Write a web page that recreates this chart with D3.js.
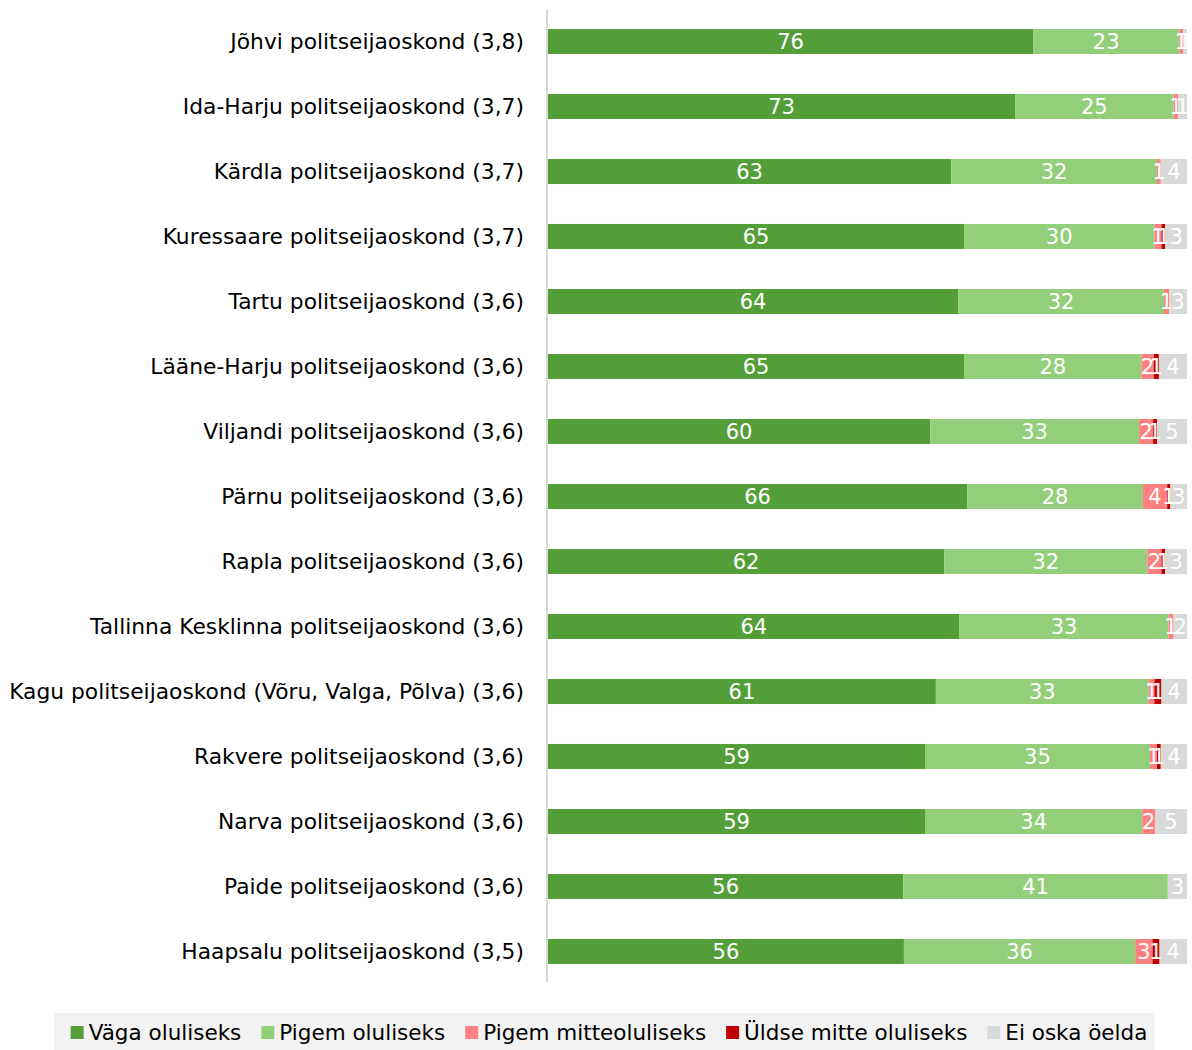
<!DOCTYPE html>
<html>
<head>
<meta charset="utf-8">
<script src="https://cdn.jsdelivr.net/npm/d3@7"></script>
<style>
  html, body { margin: 0; padding: 0; background: #fff; }
  svg { display: block; font-family: "DejaVu Sans", sans-serif; }
</style>
</head>
<body>
<svg id="chart" width="1192" height="1050"></svg>
<script>
const categories = [
  "Jõhvi politseijaoskond (3,8)",
  "Ida-Harju politseijaoskond (3,7)",
  "Kärdla politseijaoskond (3,7)",
  "Kuressaare politseijaoskond (3,7)",
  "Tartu politseijaoskond (3,6)",
  "Lääne-Harju politseijaoskond (3,6)",
  "Viljandi politseijaoskond (3,6)",
  "Pärnu politseijaoskond (3,6)",
  "Rapla politseijaoskond (3,6)",
  "Tallinna Kesklinna politseijaoskond (3,6)",
  "Kagu politseijaoskond (Võru, Valga, Põlva) (3,6)",
  "Rakvere politseijaoskond (3,6)",
  "Narva politseijaoskond (3,6)",
  "Paide politseijaoskond (3,6)",
  "Haapsalu politseijaoskond (3,5)"
];
const seriesNames = ["Väga oluliseks", "Pigem oluliseks", "Pigem mitteoluliseks", "Üldse mitte oluliseks", "Ei oska öelda"];
const vagaOluliseks   = [75.9, 73.1, 63.1, 65.1, 64.2, 65.1, 59.8, 65.6, 62.0, 64.4, 60.7, 59.0, 59.0, 55.6, 55.7];
const pigemOluliseks  = [22.9, 24.8, 32.2, 29.8, 32.2, 27.8, 32.7, 27.5, 31.8, 32.7, 33.3, 35.2, 34.0, 41.4, 36.2];
const pigemMitte      = [0.6, 0.7, 0.6, 1.1, 0.8, 1.9, 2.2, 3.8, 2.2, 0.8, 0.9, 1.1, 2.0, 0, 2.7];
const uldseMitte      = [0, 0, 0, 0.6, 0, 0.8, 0.6, 0.5, 0.6, 0, 1.1, 0.6, 0, 0, 1.1];
const eiOska          = [0.6, 1.4, 4.1, 3.4, 2.8, 4.4, 4.7, 2.6, 3.4, 2.1, 4.0, 4.1, 5.0, 3.0, 4.3];
const colors = ["#549e39", "#93cf7a", "#ff8080", "#c00000", "#d9d9d9"];

const seriesValues = [vagaOluliseks, pigemOluliseks, pigemMitte, uldseMitte, eiOska];
const rows = categories.map((c, i) => {
  const o = { cat: c };
  seriesNames.forEach((s, j) => o[s] = seriesValues[j][i]);
  return o;
});
const stacked = d3.stack().keys(seriesNames)(rows);

const svg = d3.select("#chart");
const x = d3.scaleLinear().domain([0, 100]).range([548, 1187]);
const y = d3.scaleBand().domain(categories).range([9, 984])
  .paddingInner(0.615).paddingOuter(0.3075);
const color = d3.scaleOrdinal().domain(seriesNames).range(colors);

// category axis line
svg.append("line")
  .attr("x1", 547).attr("x2", 547)
  .attr("y1", 9).attr("y2", 982)
  .attr("stroke", "#d9d9d9").attr("stroke-width", 2);

// bars
const g = svg.append("g");
const layers = g.selectAll("g.layer").data(stacked).join("g")
  .attr("class", "layer").attr("fill", d => color(d.key));
layers.selectAll("rect").data(d => d).join("rect")
  .attr("x", d => x(d[0]))
  .attr("y", d => y(d.data.cat))
  .attr("width", d => x(d[1]) - x(d[0]))
  .attr("height", y.bandwidth());

// value labels
const lbl = svg.append("g").attr("font-size", 21).attr("fill", "#fff").attr("text-anchor", "middle");
stacked.forEach(layer => {
  lbl.selectAll(null).data(layer.filter(d => d[1] - d[0] > 0)).join("text")
    .attr("x", d => (x(d[0]) + x(d[1])) / 2)
    .attr("y", d => y(d.data.cat) + y.bandwidth() / 2)
    .attr("dy", "0.36em")
    .text(d => Math.round(d[1] - d[0]));
});

// category labels
const yAxis = svg.append("g").attr("transform", "translate(524,0)")
  .call(d3.axisLeft(y).tickSize(0).tickPadding(0));
yAxis.select(".domain").remove();
yAxis.selectAll("text").attr("font-size", 21.8).attr("fill", "#000")
  .attr("font-family", "DejaVu Sans, sans-serif").attr("dy", "0.36em");

// legend
svg.append("rect").attr("x", 54).attr("y", 1013).attr("width", 1101).attr("height", 40).attr("fill", "#f2f2f2");
const leg = svg.append("g");
let cx = 0;
seriesNames.forEach((s, i) => {
  const it = leg.append("g");
  it.append("rect").attr("x", 0).attr("y", -14).attr("width", 13).attr("height", 13).attr("fill", colors[i]);
  const t = it.append("text").attr("x", 18).attr("y", 0).attr("font-size", 21.5).attr("fill", "#000").text(s);
  const w = 18 + t.node().getComputedTextLength();
  it.attr("transform", `translate(${cx},0)`);
  cx += w + 20;
});
const totalW = cx - 20;
leg.attr("transform", `translate(${609 - totalW / 2},1040)`);
</script>
</body>
</html>
